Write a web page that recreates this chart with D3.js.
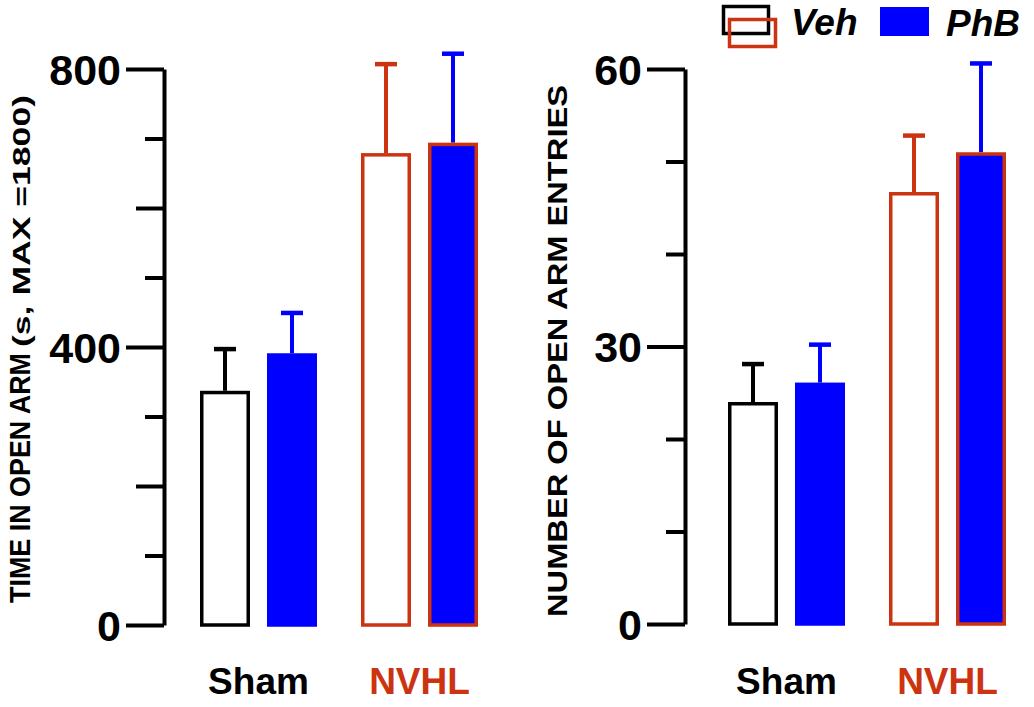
<!DOCTYPE html>
<html><head><meta charset="utf-8">
<script src="https://cdn.jsdelivr.net/npm/d3@7"></script>
<style>
body{margin:0;background:#fff}
text{font-family:"Liberation Sans",Arial,sans-serif;font-weight:bold}
</style>
</head><body>
<svg id="c" width="1034" height="707"></svg>
<script>
const groups = ["Sham", "NVHL"];
const treatments = ["Veh", "PhB"];
// order: Sham-Veh, Sham-PhB, NVHL-Veh, NVHL-PhB
const timeMean = [337, 391, 679, 694];
const timeSem = [60, 58, 128, 128];
const entriesMean = [24.0, 26.1, 46.7, 51.0];
const entriesSem = [4.1, 4.1, 6.1, 9.6];
const timeTicksMajor = [0, 400, 800];
const timeTicksMedium = [200, 600];
const timeTicksMinor = [100, 300, 500, 700];
const entryTicksMajor = [0, 30, 60];
const entryTicksMinor = [10, 20, 40, 50];

const BLUE = "#0000ff", RED = "#cc3311", BLACK = "#000";
const svg = d3.select("#c");

function panel(o) {
  const g = svg.append("g");
  const y = d3.scaleLinear().domain([0, o.max]).range([o.y0, o.y1]);
  const x0 = d3.scaleBand().domain(groups).range([o.barStart, o.barStart + 278]).paddingInner(0.2733).paddingOuter(0);
  const x1 = d3.scaleBand().domain(treatments).range([0, x0.bandwidth()]).paddingInner(0.254);

  const mk = (vals, size, labels) => {
    const a = d3.axisLeft(y).tickValues(vals).tickSize(size).tickSizeOuter(0).tickPadding(5);
    if (!labels) a.tickFormat("");
    const ag = g.append("g").attr("transform", `translate(${o.axisX},0)`).call(a);
    ag.selectAll("line").attr("stroke", BLACK).attr("stroke-width", 4);
    ag.select(".domain").attr("stroke", labels ? BLACK : "none").attr("stroke-width", 4);
    ag.selectAll("text").attr("font-size", 43).attr("font-family", '"Liberation Sans",Arial,sans-serif')
      .attr("font-weight", "bold").attr("fill", BLACK).attr("dy", "0.36em");
    return ag;
  };
  mk(o.minor, 19, false);
  if (o.medium) mk(o.medium, 28, false);
  mk(o.major, 38, true);

  const rows = [];
  groups.forEach((gr, gi) => treatments.forEach((t, ti) => {
    const i = gi * 2 + ti;
    rows.push({gr, t, m: o.mean[i], s: o.sem[i]});
  }));
  const sw = 3.5;
  rows.forEach(d => {
    const xl = x0(d.gr) + x1(d.t), w = x1.bandwidth(), cx = xl + w / 2;
    const fill = d.t === "PhB" ? BLUE : "#fff";
    const stroke = d.gr === "Sham" ? (d.t === "Veh" ? BLACK : BLUE) : RED;
    const ec = d.t === "PhB" ? BLUE : (d.gr === "Sham" ? BLACK : RED);
    g.append("line").attr("x1", cx).attr("x2", cx).attr("y1", y(d.m)).attr("y2", y(d.m + d.s))
      .attr("stroke", ec).attr("stroke-width", 4);
    g.append("line").attr("x1", cx - 11).attr("x2", cx + 11).attr("y1", y(d.m + d.s)).attr("y2", y(d.m + d.s))
      .attr("stroke", ec).attr("stroke-width", 4.5);
    g.append("rect").attr("x", xl + sw / 2).attr("width", w - sw)
      .attr("y", y(d.m) + sw / 2).attr("height", y(0) - y(d.m) - sw / 2)
      .attr("fill", fill).attr("stroke", stroke).attr("stroke-width", sw);
  });

  groups.forEach(gr => {
    g.append("text").attr("x", x0(gr) + x0.bandwidth() / 2).attr("y", 694)
      .attr("text-anchor", "middle").attr("font-size", 37)
      .attr("fill", gr === "Sham" ? BLACK : RED).text(gr);
  });
  return g;
}

panel({axisX: 164, y0: 625, y1: 69, max: 800, barStart: 200,
  mean: timeMean, sem: timeSem, major: timeTicksMajor, medium: timeTicksMedium, minor: timeTicksMinor});
panel({axisX: 685, y0: 624, y1: 69, max: 60, barStart: 728,
  mean: entriesMean, sem: entriesSem, major: entryTicksMajor, medium: null, minor: entryTicksMinor});

svg.append("text").attr("transform", "translate(30,603) rotate(-90)")
  .attr("font-size", 29).attr("textLength", 250).attr("lengthAdjust", "spacingAndGlyphs")
  .text("TIME IN OPEN ARM");
svg.append("text").attr("transform", "translate(30,347) rotate(-90)")
  .attr("font-size", 24).attr("textLength", 252).attr("lengthAdjust", "spacingAndGlyphs")
  .text("(s, MAX =1800)");
svg.append("text").attr("transform", "translate(567,617) rotate(-90)")
  .attr("font-size", 27).attr("textLength", 532).attr("lengthAdjust", "spacingAndGlyphs")
  .text("NUMBER OF OPEN ARM ENTRIES");

const lg = svg.append("g");
lg.append("rect").attr("x", 723.5).attr("y", 6.5).attr("width", 45).attr("height", 27)
  .attr("fill", "none").attr("stroke", BLACK).attr("stroke-width", 3.5);
lg.append("rect").attr("x", 729.5).attr("y", 19.5).attr("width", 46).attr("height", 27)
  .attr("fill", "none").attr("stroke", RED).attr("stroke-width", 3.5);
lg.append("text").attr("x", 791).attr("y", 35).attr("font-size", 37).attr("font-style", "italic").text(treatments[0]);
lg.append("rect").attr("x", 880).attr("y", 7).attr("width", 49).attr("height", 29).attr("fill", BLUE);
lg.append("text").attr("x", 946).attr("y", 36).attr("font-size", 37).attr("font-style", "italic").text(treatments[1]);
</script>
</body></html>
